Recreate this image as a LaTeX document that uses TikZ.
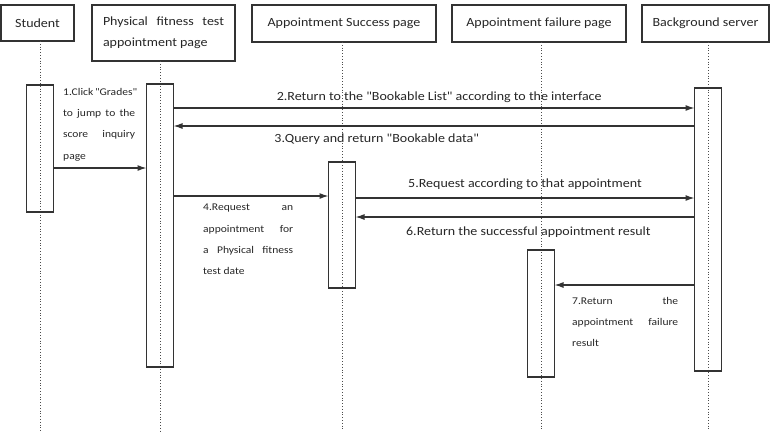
\documentclass[tikz,border=0pt]{standalone}
\usepackage{fontspec}
\setmainfont{Carlito}[FakeStretch=1.12, Ligatures=TeXOff]
\usetikzlibrary{arrows.meta}

\begin{document}
\begin{tikzpicture}[
    x=1pt,
    y=-1pt,
    >={Latex[length=9pt,width=6pt]},
    actor/.style={
        draw=black!80,
        line width=1.2pt,
        text=black!85,
        font=\fontsize{12.5}{21}\selectfont,
        inner sep=0pt,
        outer sep=0pt
    },
    lifeline/.style={
        draw=black!70,
        dotted,
        line width=0.8pt
    },
    activation/.style={
        draw=black!80,
        line width=1.2pt,
        minimum width=27pt,
        inner sep=0pt,
        outer sep=0pt,
        anchor=north
    },
    message/.style={
        ->,
        draw=black!80,
        line width=1.2pt
    },
    msglabel/.style={
        text=black!85,
        font=\fontsize{12.5}{15}\selectfont,
        inner sep=0pt
    },
    note/.style={
        text=black!85,
        font=\fontsize{10.3}{21.3}\selectfont,
        align=left,
        inner sep=0pt,
        anchor=north west
    }
]

\useasboundingbox (0,0) rectangle (770,431);

% Horizontal positions of the lifelines
\def\StudentX{40}
\def\PhysicalX{160}
\def\SuccessX{342}
\def\FailureX{541}
\def\ServerX{708}

% ==================================================
% Participants
% ==================================================

\node[actor, minimum width=73pt, minimum height=36pt] (stu) at (37.5,23)
    {Student};

\node[actor, minimum width=143pt, minimum height=56pt, align=left] (phy) at (163.5,33)
    {\makebox[121pt][s]{Physical fitness test}\\appointment page};

\node[actor, minimum width=184pt, minimum height=37pt] (suc) at (344,23.5)
    {Appointment Success page};

\node[actor, minimum width=174pt, minimum height=37pt] (fai) at (539,23.5)
    {Appointment failure page};

\node[actor, minimum width=127pt, minimum height=37pt] (srv) at (705.5,23.5)
    {Background server};

% Lifelines
\foreach \n/\x in {stu/\StudentX, phy/\PhysicalX, suc/\SuccessX, fai/\FailureX, srv/\ServerX}
    \draw[lifeline] (\n.south -| \x,0) -- (\x,431);

% ==================================================
% Activation bars
% ==================================================

\node[activation, minimum height=127pt] (actStu) at (\StudentX,85) {};
\node[activation, minimum height=283pt] (actPhy) at (\PhysicalX,84) {};
\node[activation, minimum height=126pt] (actSuc) at (\SuccessX,162) {};
\node[activation, minimum height=127pt] (actFai) at (\FailureX,250) {};
\node[activation, minimum height=283pt] (actSrv) at (\ServerX,88) {};

% ==================================================
% Messages
% ==================================================

% 1: student opens the appointment page
\draw[message] (actStu.east |- 0,168) -- (actPhy.west |- 0,168);

\node[note] (n1) at (63,88)
    {\makebox[72pt][s]{1.Click "Grades"}\\
     \makebox[72pt][s]{to jump to the}\\
     \makebox[72pt][s]{score inquiry}\\
     page};

% 2 and 3: bookable list from the server
\draw[message] (actPhy.east |- 0,108)
    --
    node[msglabel, pos=0.51, above=4.5pt] (m2)
        {2.Return to the "Bookable List" according to the interface}
    (actSrv.west |- 0,108);

\draw[message] (actSrv.west |- 0,126)
    --
    node[msglabel, pos=0.61, below=7pt] (m3)
        {3.Query and return "Bookable data"}
    (actPhy.east |- 0,126);

% 4: request an appointment
\draw[message] (actPhy.east |- 0,196) -- (actSuc.west |- 0,196);

\node[note] (n4) at (203,204)
    {\makebox[90pt][s]{4.Request an}\\
     \makebox[90pt][s]{appointment for}\\
     \makebox[90pt][s]{a Physical fitness}\\
     test date};

% 5 and 6: success path
\draw[message] (actSuc.east |- 0,198)
    --
    node[msglabel, above=7.5pt] (m5)
        {5.Request according to that appointment}
    (actSrv.west |- 0,198);

\draw[message] (actSrv.west |- 0,217)
    --
    node[msglabel, pos=0.49, below=9pt] (m6)
        {6.Return the successful appointment result}
    (actSuc.east |- 0,217);

% 7: failure path
\draw[message] (actSrv.west |- 0,285) -- (actFai.east |- 0,285);

\node[note] (n7) at (572,297)
    {\makebox[106pt][s]{7.Return the}\\
     \makebox[106pt][s]{appointment failure}\\
     result};

\end{tikzpicture}
\end{document}
